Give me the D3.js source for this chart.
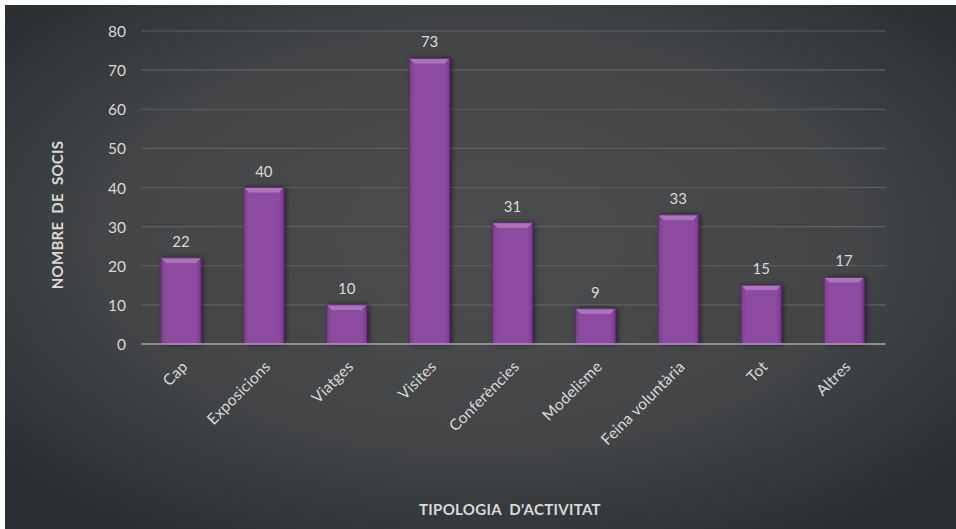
<!DOCTYPE html>
<html>
<head>
<meta charset="utf-8">
<script src="https://cdn.jsdelivr.net/npm/d3@7"></script>
<style>
html,body{margin:0;padding:0;background:#fff;}
svg{display:block;}
text{font-family:Lato,"Open Sans",sans-serif;}
</style>
</head>
<body>
<svg id="chart" width="956" height="529"></svg>
<script>
const categories = ["Cap","Exposicions","Viatges","Visites","Conferències","Modelisme","Feina voluntària","Tot","Altres"];
const values = [22,40,10,73,31,9,33,15,17];
const yTicks = [0,10,20,30,40,50,60,70,80];
const yTitle = "NOMBRE  DE  SOCIS";
const xTitle = "TIPOLOGIA  D'ACTIVITAT";

const svg = d3.select("#chart");
const W = 956, H = 529;
const defs = svg.append("defs");

const bg = defs.append("radialGradient").attr("id","bg")
  .attr("cx","50%").attr("cy","45%").attr("r","65%");
bg.append("stop").attr("offset","0%").attr("stop-color","#4b4c4d");
bg.append("stop").attr("offset","60%").attr("stop-color","#434547");
bg.append("stop").attr("offset","100%").attr("stop-color","#2b2f33");

const barG = defs.append("linearGradient").attr("id","barg").attr("x1","0").attr("x2","1").attr("y1","0").attr("y2","0");
barG.append("stop").attr("offset","0%").attr("stop-color","#7e3d92");
barG.append("stop").attr("offset","12%").attr("stop-color","#8c4b9f");
barG.append("stop").attr("offset","88%").attr("stop-color","#8c4b9f");
barG.append("stop").attr("offset","100%").attr("stop-color","#7a3a8e");

const shadow = defs.append("filter").attr("id","sh").attr("x","-30%").attr("y","-10%").attr("width","160%").attr("height","120%");
shadow.append("feDropShadow").attr("dx",2).attr("dy",0).attr("stdDeviation",2.5).attr("flood-color","#000").attr("flood-opacity",0.5);

svg.append("rect").attr("x",5).attr("y",5).attr("width",W-5).attr("height",H-5).attr("fill","url(#bg)");

const left = 139.5, right = 885.5;
const x = d3.scaleBand().domain(categories).range([left, right]).paddingInner(0.52).paddingOuter(0.26);
const y = d3.scaleLinear().domain([0,80]).range([344,31]);

// grid
svg.append("g").selectAll("line").data(yTicks.filter(d=>d>0)).join("line")
  .attr("x1",left+2).attr("x2",right)
  .attr("y1",d=>y(d)).attr("y2",d=>y(d))
  .attr("stroke","#5e6163").attr("stroke-width",1.2);

// y axis labels
const yAxis = d3.axisLeft(y).tickValues(yTicks).tickSize(0).tickPadding(0);
const yg = svg.append("g").attr("transform",`translate(126,0)`).call(yAxis);
yg.select(".domain").remove();
yg.selectAll("text").attr("fill","#d9d9d9").attr("font-size",15.5).attr("dy","0.36em");

// bars
const bars = svg.append("g").selectAll("g").data(values).join("g");
bars.append("rect")
  .attr("x",(d,i)=>x(categories[i])).attr("y",d=>y(d))
  .attr("width",x.bandwidth()).attr("height",d=>y(0)-y(d))
  .attr("fill","url(#barg)").attr("stroke","#6b2a7e").attr("stroke-width",1)
  .attr("filter","url(#sh)");
// bevel top
bars.append("path")
  .attr("d",(d,i)=>{
    const x0=x(categories[i]), w=x.bandwidth(), t=y(d);
    return `M${x0+0.5},${t+0.5} L${x0+w-0.5},${t+0.5} L${x0+w-5},${t+5} L${x0+5},${t+5} Z`;
  })
  .attr("fill","#b27cc0").attr("opacity",0.85);

// baseline
svg.append("line").attr("x1",left+2).attr("x2",right).attr("y1",y(0)).attr("y2",y(0))
  .attr("stroke","#a5a7a9").attr("stroke-width",1.5);

// value labels
svg.append("g").selectAll("text").data(values).join("text")
  .attr("x",(d,i)=>x(categories[i])+x.bandwidth()/2)
  .attr("y",d=>y(d)-11)
  .attr("text-anchor","middle").attr("fill","#d9d9d9").attr("font-size",15)
  .text(d=>d);

// x labels
const xAxis = d3.axisBottom(x).tickSize(0).tickPadding(0);
const xg = svg.append("g").attr("transform",`translate(0,360)`).call(xAxis);
xg.select(".domain").remove();
xg.selectAll("text").attr("fill","#d9d9d9").attr("font-size",15.5)
  .attr("text-anchor","end").attr("dy","0.7em").attr("dx",0)
  .attr("letter-spacing",0.2)
  .attr("transform","rotate(-45)");

// titles
svg.append("text").attr("transform","translate(63,215) rotate(-90)")
  .attr("text-anchor","middle").attr("fill","#d9d9d9").attr("font-size",15).attr("font-weight","bold")
  .attr("letter-spacing",0.3)
  .style("white-space","pre").text(yTitle);
svg.append("text").attr("x",510).attr("y",515)
  .attr("text-anchor","middle").attr("fill","#d9d9d9").attr("font-size",15).attr("font-weight","bold")
  .attr("letter-spacing",0.3)
  .style("white-space","pre").text(xTitle);
</script>
</body>
</html>
